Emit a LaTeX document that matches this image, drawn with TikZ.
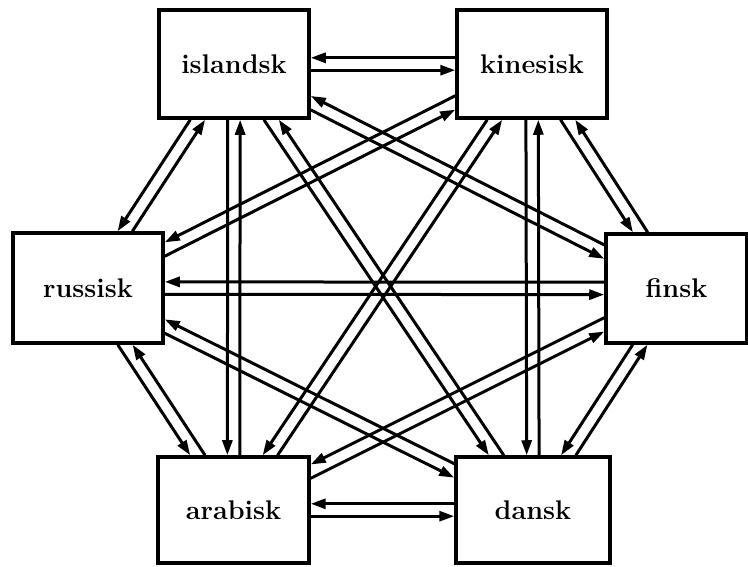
\documentclass[tikz,border=0pt]{standalone}
\usepackage{fontspec}
\usetikzlibrary{calc,intersections,arrows.meta}

\tikzset{
  langbox/.style={draw, line width=3.5pt, fill=white, inner sep=0pt,
    font=\fontsize{27}{32}\selectfont\bfseries},
  link/.style={line width=3pt, -{Triangle[length=15pt,width=10pt]}},
}

\begin{document}
\begin{tikzpicture}[x=1pt,y=-1pt]
\useasboundingbox (0,0) rectangle (748,567);

% the six languages, set out as a hexagon
\node[langbox, minimum width=150pt, minimum height=108pt] (isl) at (234,64)    {islandsk};
\node[langbox, minimum width=150pt, minimum height=108pt] (kin) at (532,64)    {kinesisk};
\node[langbox, minimum width=150pt, minimum height=110pt] (rus) at (88,288)    {russisk};
\node[langbox, minimum width=141pt, minimum height=109pt] (fin) at (676.5,288.5) {finsk};
\node[langbox, minimum width=151pt, minimum height=106pt] (ara) at (233.5,510) {arabisk};
\node[langbox, minimum width=154pt, minimum height=106pt] (dan) at (533,510)   {dansk};

% outlines of the boxes, used to clip the arrows
\foreach \n in {isl,kin,rus,fin,ara,dan}
  \path[name path global=box-\n] (\n.south west) rectangle (\n.north east);

% every pair is joined both ways; each arrow runs to the right of the centre line
\foreach \p/\q in {isl/kin, isl/rus, isl/fin, isl/ara, isl/dan,
                   kin/rus, kin/fin, kin/ara, kin/dan,
                   rus/fin, rus/ara, rus/dan,
                   fin/ara, fin/dan,
                   ara/dan}{
  \foreach \a/\b in {\p/\q, \q/\p}{
    \path[name path global=lane] ($(\a)!6.2pt!-90:(\b)$) -- ($(\b)!6.2pt!90:(\a)$);
    \path[name intersections={of=lane and box-\a, by=from}];
    \path[name intersections={of=lane and box-\b, by=to}];
    \draw[link] (from) -- (to);
  }
}
\end{tikzpicture}
\end{document}
